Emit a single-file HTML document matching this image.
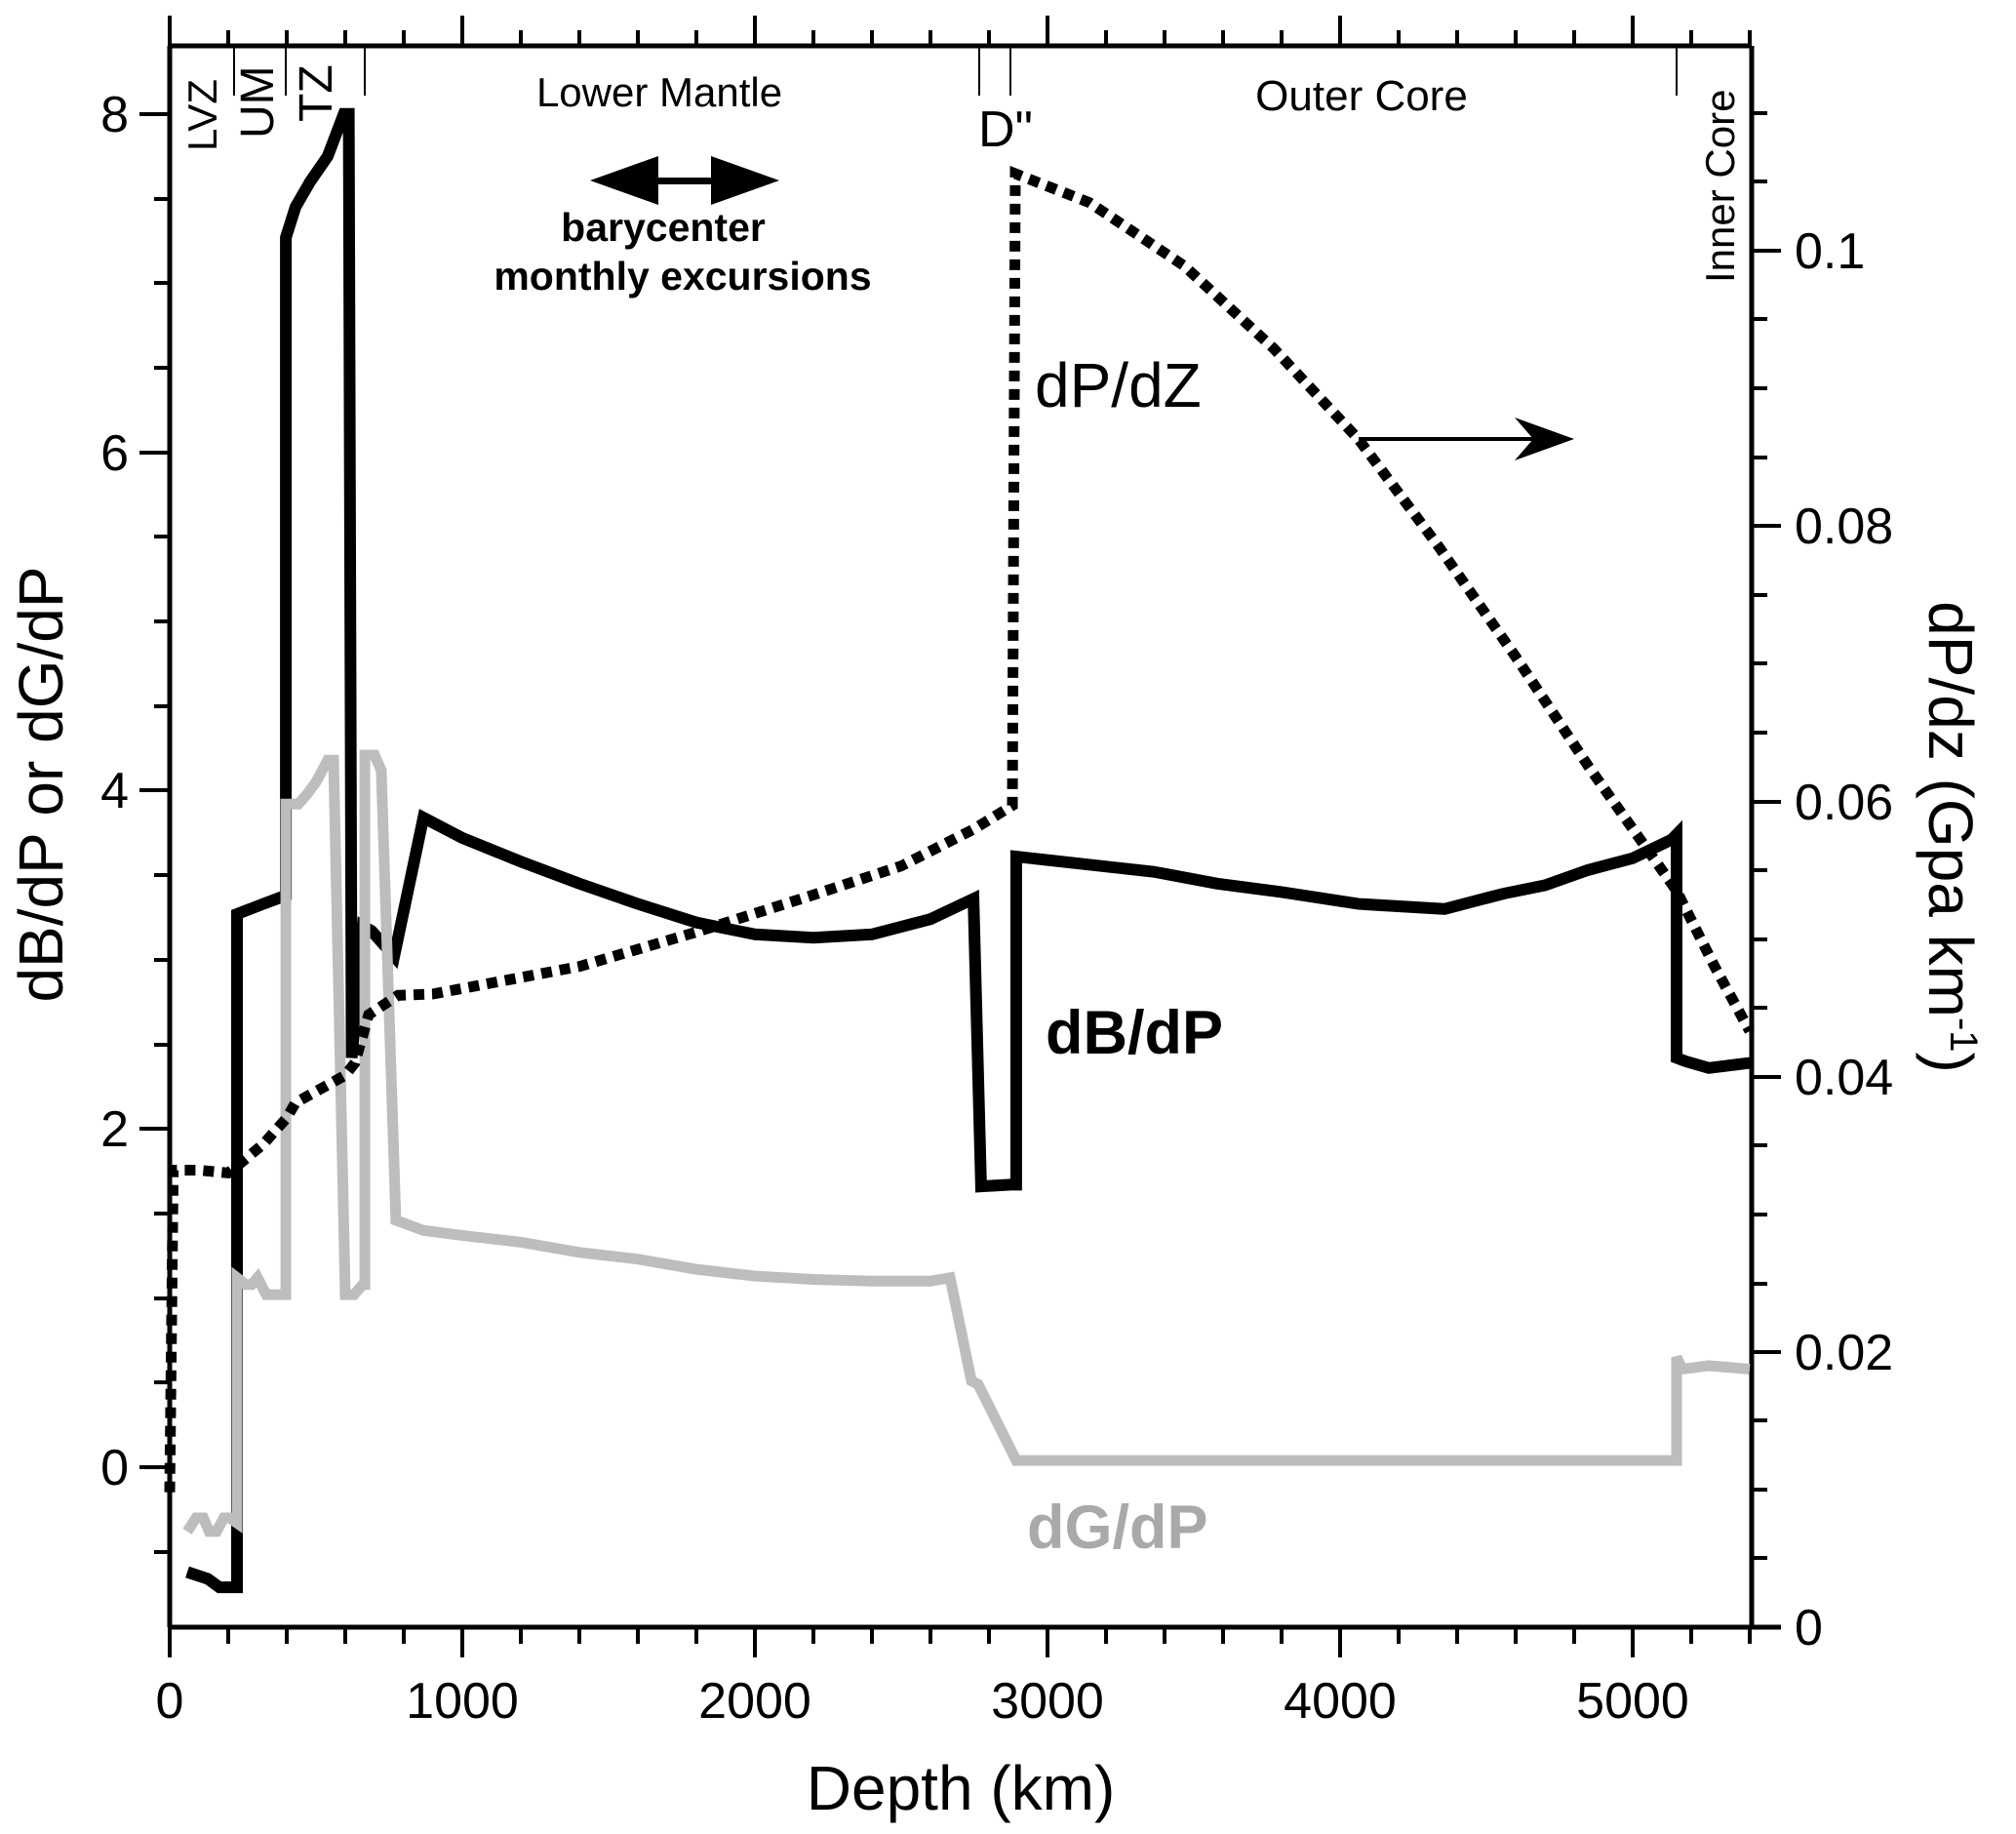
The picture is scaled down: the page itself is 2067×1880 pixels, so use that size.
<!DOCTYPE html>
<html><head><meta charset="utf-8"><style>
html,body{margin:0;padding:0;background:#fff}
svg{display:block}
text{font-family:"Liberation Sans",Arial,sans-serif}
</style></head><body>
<svg width="2067" height="1880" viewBox="0 0 2067 1880" xmlns="http://www.w3.org/2000/svg">
<g stroke="#000" fill="none">
<line x1="174" y1="47" x2="1796" y2="47" stroke-width="5"/>
<line x1="174" y1="47" x2="174" y2="1668" stroke-width="5"/>
<line x1="1796" y1="47" x2="1796" y2="1668" stroke-width="5"/>
<line x1="172" y1="1668" x2="1826" y2="1668" stroke-width="5"/>
</g>
<g stroke="#000" stroke-width="4">
<line x1="174" y1="1668" x2="174" y2="1699"/>
<line x1="474" y1="1668" x2="474" y2="1699"/>
<line x1="774" y1="1668" x2="774" y2="1699"/>
<line x1="1074" y1="1668" x2="1074" y2="1699"/>
<line x1="1374" y1="1668" x2="1374" y2="1699"/>
<line x1="1674" y1="1668" x2="1674" y2="1699"/>
</g>
<g stroke="#000" stroke-width="4">
<line x1="234" y1="1668" x2="234" y2="1685"/><line x1="294" y1="1668" x2="294" y2="1685"/><line x1="354" y1="1668" x2="354" y2="1685"/><line x1="414" y1="1668" x2="414" y2="1685"/>
<line x1="534" y1="1668" x2="534" y2="1685"/><line x1="594" y1="1668" x2="594" y2="1685"/><line x1="654" y1="1668" x2="654" y2="1685"/><line x1="714" y1="1668" x2="714" y2="1685"/>
<line x1="834" y1="1668" x2="834" y2="1685"/><line x1="894" y1="1668" x2="894" y2="1685"/><line x1="954" y1="1668" x2="954" y2="1685"/><line x1="1014" y1="1668" x2="1014" y2="1685"/>
<line x1="1134" y1="1668" x2="1134" y2="1685"/><line x1="1194" y1="1668" x2="1194" y2="1685"/><line x1="1254" y1="1668" x2="1254" y2="1685"/><line x1="1314" y1="1668" x2="1314" y2="1685"/>
<line x1="1434" y1="1668" x2="1434" y2="1685"/><line x1="1494" y1="1668" x2="1494" y2="1685"/><line x1="1554" y1="1668" x2="1554" y2="1685"/><line x1="1614" y1="1668" x2="1614" y2="1685"/>
<line x1="1734" y1="1668" x2="1734" y2="1685"/><line x1="1794" y1="1668" x2="1794" y2="1685"/>
</g>
<g stroke="#000" stroke-width="4">
<line x1="174" y1="47" x2="174" y2="16"/><line x1="474" y1="47" x2="474" y2="16"/><line x1="774" y1="47" x2="774" y2="16"/><line x1="1074" y1="47" x2="1074" y2="16"/><line x1="1374" y1="47" x2="1374" y2="16"/><line x1="1674" y1="47" x2="1674" y2="16"/>
<line x1="234" y1="47" x2="234" y2="31"/><line x1="294" y1="47" x2="294" y2="31"/><line x1="354" y1="47" x2="354" y2="31"/><line x1="414" y1="47" x2="414" y2="31"/>
<line x1="534" y1="47" x2="534" y2="31"/><line x1="594" y1="47" x2="594" y2="31"/><line x1="654" y1="47" x2="654" y2="31"/><line x1="714" y1="47" x2="714" y2="31"/>
<line x1="834" y1="47" x2="834" y2="31"/><line x1="894" y1="47" x2="894" y2="31"/><line x1="954" y1="47" x2="954" y2="31"/><line x1="1014" y1="47" x2="1014" y2="31"/>
<line x1="1134" y1="47" x2="1134" y2="31"/><line x1="1194" y1="47" x2="1194" y2="31"/><line x1="1254" y1="47" x2="1254" y2="31"/><line x1="1314" y1="47" x2="1314" y2="31"/>
<line x1="1434" y1="47" x2="1434" y2="31"/><line x1="1494" y1="47" x2="1494" y2="31"/><line x1="1554" y1="47" x2="1554" y2="31"/><line x1="1614" y1="47" x2="1614" y2="31"/>
<line x1="1734" y1="47" x2="1734" y2="31"/><line x1="1794" y1="47" x2="1794" y2="31"/>
</g>
<g stroke="#000" stroke-width="4">
<line x1="143" y1="1504" x2="174" y2="1504"/><line x1="143" y1="1157" x2="174" y2="1157"/><line x1="143" y1="810" x2="174" y2="810"/><line x1="143" y1="464" x2="174" y2="464"/><line x1="143" y1="117" x2="174" y2="117"/>
<line x1="158" y1="1591" x2="174" y2="1591"/><line x1="158" y1="1417" x2="174" y2="1417"/><line x1="158" y1="1331" x2="174" y2="1331"/><line x1="158" y1="1244" x2="174" y2="1244"/>
<line x1="158" y1="1071" x2="174" y2="1071"/><line x1="158" y1="984" x2="174" y2="984"/><line x1="158" y1="897" x2="174" y2="897"/>
<line x1="158" y1="724" x2="174" y2="724"/><line x1="158" y1="637" x2="174" y2="637"/><line x1="158" y1="550" x2="174" y2="550"/>
<line x1="158" y1="377" x2="174" y2="377"/><line x1="158" y1="290" x2="174" y2="290"/><line x1="158" y1="204" x2="174" y2="204"/>
</g>
<g stroke="#000" stroke-width="4">
<line x1="1796" y1="1386" x2="1826" y2="1386"/><line x1="1796" y1="1104" x2="1826" y2="1104"/><line x1="1796" y1="822" x2="1826" y2="822"/><line x1="1796" y1="539" x2="1826" y2="539"/><line x1="1796" y1="257" x2="1826" y2="257"/>
<line x1="1796" y1="1597" x2="1812" y2="1597"/><line x1="1796" y1="1527" x2="1812" y2="1527"/><line x1="1796" y1="1456" x2="1812" y2="1456"/>
<line x1="1796" y1="1316" x2="1812" y2="1316"/><line x1="1796" y1="1245" x2="1812" y2="1245"/><line x1="1796" y1="1174" x2="1812" y2="1174"/>
<line x1="1796" y1="1033" x2="1812" y2="1033"/><line x1="1796" y1="963" x2="1812" y2="963"/><line x1="1796" y1="892" x2="1812" y2="892"/>
<line x1="1796" y1="751" x2="1812" y2="751"/><line x1="1796" y1="680" x2="1812" y2="680"/><line x1="1796" y1="610" x2="1812" y2="610"/>
<line x1="1796" y1="469" x2="1812" y2="469"/><line x1="1796" y1="398" x2="1812" y2="398"/><line x1="1796" y1="327" x2="1812" y2="327"/>
<line x1="1796" y1="186" x2="1812" y2="186"/><line x1="1796" y1="116" x2="1812" y2="116"/>
</g>
<g font-size="52" text-anchor="end">
<text x="132" y="1522">0</text><text x="132" y="1175">2</text><text x="132" y="828">4</text><text x="132" y="482">6</text><text x="132" y="135">8</text>
</g>
<g font-size="52" text-anchor="start">
<text x="1840" y="1686">0</text><text x="1840" y="1404">0.02</text><text x="1840" y="1122">0.04</text><text x="1840" y="840">0.06</text><text x="1840" y="557">0.08</text><text x="1840" y="275">0.1</text>
</g>
<g font-size="52" text-anchor="middle">
<text x="174" y="1761">0</text><text x="474" y="1761">1000</text><text x="774" y="1761">2000</text><text x="1074" y="1761">3000</text><text x="1374" y="1761">4000</text><text x="1674" y="1761">5000</text>
</g>
<text x="985" y="1855" font-size="64" text-anchor="middle">Depth (km)</text>
<text transform="translate(64,804) rotate(-90)" font-size="64" text-anchor="middle">dB/dP or dG/dP</text>
<text transform="translate(1978,858) rotate(90)" font-size="64" text-anchor="middle">dP/dz (Gpa km<tspan dy="-22" font-size="40">-1</tspan><tspan dy="22">)</tspan></text>

<g stroke="#000" stroke-width="2">
<line x1="240" y1="47" x2="240" y2="98"/><line x1="293" y1="47" x2="293" y2="98"/><line x1="374" y1="47" x2="374" y2="98"/>
<line x1="1004" y1="47" x2="1004" y2="98"/><line x1="1036" y1="47" x2="1036" y2="98"/><line x1="1719" y1="47" x2="1719" y2="98"/>
</g>
<g font-size="42">
<text transform="translate(222,155) rotate(-90)">LVZ</text>
<text transform="translate(280,142) rotate(-90)" font-size="48">UM</text>
<text transform="translate(340,125) rotate(-90)" font-size="48">TZ</text>
<text x="676" y="109" text-anchor="middle">Lower Mantle</text>
<text x="1396" y="113" text-anchor="middle" font-size="44">Outer Core</text>
<text x="1003" y="150" font-size="52">D"</text>
<text transform="translate(1778,290) rotate(-90)" font-size="42">Inner Core</text>
</g>

<g fill="#000">
<rect x="670" y="182" width="65" height="7"/>
<polygon points="605,185 675,160 675,210"/>
<polygon points="799,185 729,160 729,210"/>
</g>
<text x="680" y="247" font-size="41" font-weight="bold" text-anchor="middle">barycenter</text>
<text x="700" y="297" font-size="41" font-weight="bold" text-anchor="middle">monthly excursions</text>

<g transform="translate(174,1504) scale(0.3,-173.4)">
<polyline fill="none" stroke="#000" stroke-width="12" vector-effect="non-scaling-stroke" stroke-linejoin="miter"
points="60,-0.62 130,-0.66 170,-0.71 230,-0.71 230,3.27 320,3.33 397,3.38 397,7.27 430,7.45 480,7.6 540,7.75 595,8.0 612,8.0 622,2.42 622,2.42 660,3.2 690,3.17 767,3.02 867,3.84 1000,3.72 1200,3.58 1400,3.45 1600,3.33 1800,3.22 2000,3.15 2200,3.13 2400,3.15 2600,3.24 2747,3.36 2773,1.66 2873,1.67 2893,1.67 2893,3.61 3100,3.57 3363,3.52 3580,3.45 3800,3.4 4063,3.33 4357,3.3 4557,3.39 4700,3.44 4847,3.53 5000,3.6 5133,3.71 5150,3.74 5150,2.42 5180,2.4 5260,2.36 5400,2.39"/>
</g>
<g transform="translate(174,1504) scale(0.3,-173.4)">
<polyline fill="none" stroke="#bdbdbd" stroke-width="11" vector-effect="non-scaling-stroke" stroke-linejoin="miter"
points="60,-0.38 90,-0.3 115,-0.3 135,-0.38 160,-0.38 185,-0.3 205,-0.3 230,-0.33 230,1.12 260,1.08 280,1.08 300,1.12 330,1.02 397,1.02 397,3.92 440,3.92 470,3.98 500,4.05 540,4.18 560,4.18 600,1.02 630,1.02 660,1.08 667,1.08 667,4.21 700,4.21 723,4.12 773,1.46 867,1.4 1000,1.37 1200,1.33 1400,1.27 1600,1.23 1800,1.17 2000,1.13 2200,1.11 2400,1.1 2600,1.1 2667,1.12 2740,0.51 2763,0.49 2893,0.04 5150,0.04 5150,0.65 5170,0.58 5260,0.6 5400,0.58"/>
</g>
<g transform="translate(174,1668) scale(0.3,-14110)">
<polyline fill="none" stroke="#000" stroke-width="11" stroke-dasharray="11 8" vector-effect="non-scaling-stroke"
points="0,0.0098 8,0.025 12,0.0332 100,0.0332 200,0.0330 230,0.0335 320,0.0351 400,0.037 430,0.0381 600,0.0401 633,0.041 680,0.0445 780,0.0459 900,0.046 1400,0.048 1800,0.0505 2200,0.0532 2500,0.0553 2750,0.058 2880,0.0597 2890,0.1056 3143,0.1035 3467,0.0989 3773,0.0929 4063,0.0863 4337,0.0785 4600,0.0705 4850,0.0625 5050,0.0565 5150,0.0535 5280,0.048 5400,0.0433"/>
</g>

<text x="1061" y="417" font-size="64">dP/dZ</text>
<line x1="1393" y1="450" x2="1600" y2="450" stroke="#000" stroke-width="4"/>
<polygon points="1614,450 1553,428 1572,450 1553,472" fill="#000"/>
<text x="1072" y="1080" font-size="63" font-weight="bold">dB/dP</text>
<text x="1053" y="1587" font-size="63" font-weight="bold" fill="#a9a9a9">dG/dP</text>
</svg>
</body></html>
